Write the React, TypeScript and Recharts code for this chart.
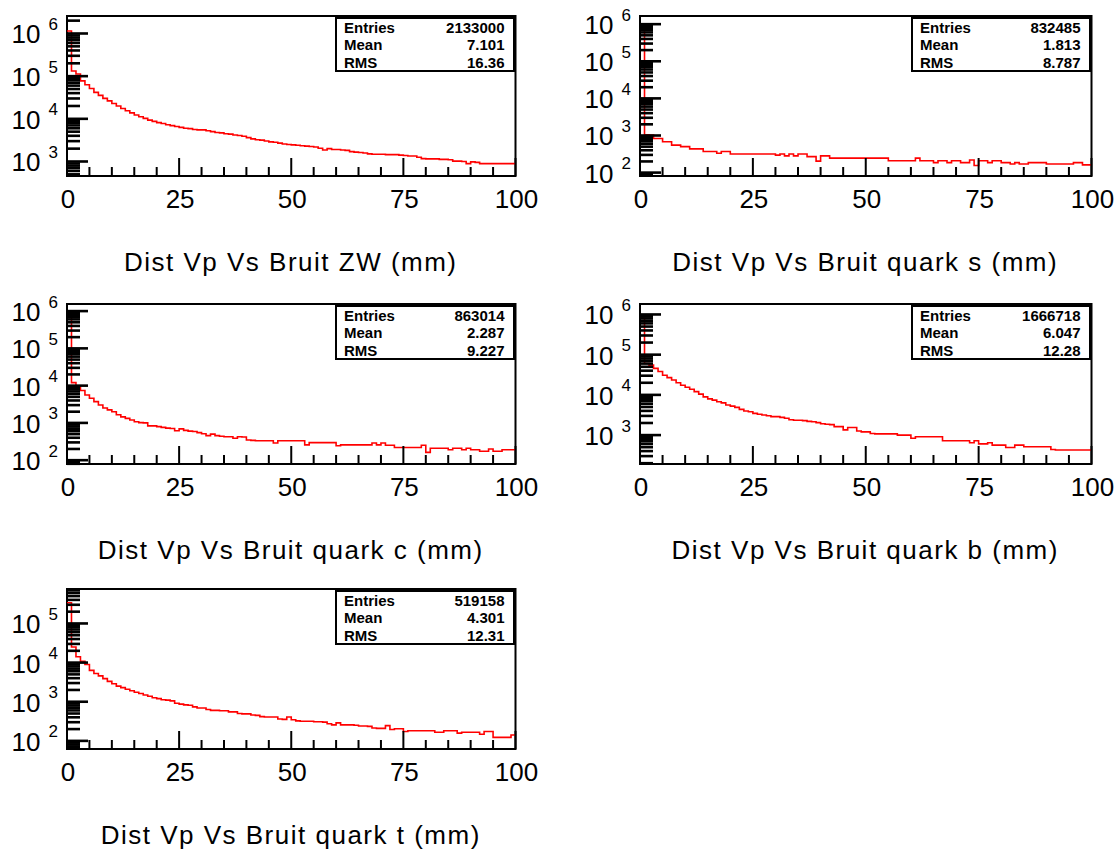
import React from 'react';
import { LineChart, Line, XAxis, YAxis, ReferenceArea } from 'recharts';

const FONT = '"Liberation Sans", Arial, Helvetica, sans-serif';
const RED = '#ff0000';
const INK = '#000';

// entries per 1 mm bin, 0 .. 100 mm
const zwCounts = [
  1148000, 131800, 112200, 77600, 63100, 51300, 41700, 35500, 30200, 26300,
  22900, 19950, 17400, 15500, 13800, 12300, 11200, 10230, 9330, 8710,
  8130, 7760, 7240, 6920, 6610, 6310, 6030, 5890, 5620, 5500,
  5500, 5250, 5010, 4790, 4680, 4470, 4370, 4170, 4070, 3890,
  3630, 3390, 3240, 3160, 3020, 2880, 2820, 2690, 2570, 2510,
  2450, 2400, 2340, 2290, 2240, 2190, 2040, 1860, 2000, 1910,
  1910, 1860, 1820, 1700, 1660, 1620, 1580, 1510, 1480, 1480,
  1480, 1450, 1450, 1450, 1410, 1380, 1350, 1350, 1260, 1170,
  1150, 1150, 1150, 1120, 1120, 1100, 1020, 1020, 1000, 890,
  980, 955, 890, 890, 890, 890, 890, 890, 890, 890,
];

const sCounts = [
  708000, 1047, 1023, 832, 832, 676, 676, 550, 550, 501,
  501, 437, 437, 437, 372, 372, 372, 331, 372, 372,
  316, 316, 316, 316, 316, 316, 316, 316, 316, 316,
  295, 316, 282, 316, 282, 316, 316, 269, 269, 204,
  282, 282, 245, 245, 245, 245, 245, 245, 245, 245,
  245, 245, 245, 245, 245, 209, 209, 209, 209, 209,
  209, 245, 209, 209, 209, 186, 209, 209, 186, 209,
  209, 186, 186, 219, 155, 209, 209, 186, 209, 209,
  186, 186, 170, 186, 170, 170, 186, 186, 186, 186,
  170, 170, 170, 170, 170, 170, 186, 186, 162, 162,
];

const cCounts = [
  692000, 12020, 9120, 7410, 5620, 4570, 3720, 3020, 2510, 2240,
  2000, 1660, 1450, 1320, 1200, 1070, 1020, 1000, 832, 832,
  794, 759, 724, 708, 617, 692, 631, 603, 589, 550,
  513, 457, 501, 457, 437, 427, 427, 389, 427, 417,
  347, 339, 331, 331, 331, 331, 288, 331, 331, 331,
  331, 331, 331, 257, 295, 295, 295, 295, 295, 295,
  245, 257, 257, 257, 257, 257, 257, 257, 288, 257,
  288, 251, 251, 219, 219, 219, 219, 219, 219, 251,
  162, 209, 209, 209, 209, 191, 209, 209, 191, 209,
  191, 191, 174, 174, 200, 174, 174, 191, 191, 191,
];

const bCounts = [
  813000, 60300, 54950, 45710, 38020, 30900, 26920, 23440, 19950, 17380,
  15490, 13800, 12020, 10470, 8910, 7940, 7410, 6760, 6310, 5620,
  5250, 4900, 4370, 3980, 3800, 3470, 3310, 3160, 3020, 2880,
  2880, 2750, 2630, 2400, 2340, 2340, 2290, 2190, 2140, 2040,
  1910, 1860, 1820, 1620, 1620, 1350, 1550, 1550, 1260, 1200,
  1200, 1100, 1070, 1070, 1070, 1070, 1070, 1000, 1000, 1000,
  832, 912, 912, 912, 912, 912, 912, 724, 724, 724,
  724, 724, 724, 646, 724, 603, 603, 646, 562, 562,
  562, 490, 490, 562, 562, 513, 513, 513, 513, 513,
  513, 437, 427, 427, 427, 427, 427, 427, 427, 427,
];

const tCounts = [
  339000, 25120, 14130, 10720, 8910, 6310, 5250, 4570, 3890, 3310,
  2880, 2510, 2290, 2090, 1910, 1740, 1620, 1480, 1380, 1260,
  1200, 1120, 1100, 1050, 912, 871, 832, 813, 741, 692,
  692, 631, 603, 603, 589, 589, 550, 550, 501, 490,
  490, 457, 447, 417, 407, 407, 407, 363, 355, 407,
  347, 324, 316, 316, 316, 309, 309, 302, 275, 257,
  288, 257, 257, 257, 251, 240, 240, 234, 214, 209,
  209, 245, 195, 204, 204, 174, 182, 182, 182, 182,
  182, 182, 166, 166, 182, 182, 182, 158, 166, 166,
  166, 166, 148, 174, 174, 123, 123, 123, 123, 141,
];

const titles = [
  'Dist Vp Vs Bruit ZW (mm)',
  'Dist Vp Vs Bruit quark s (mm)',
  'Dist Vp Vs Bruit quark c (mm)',
  'Dist Vp Vs Bruit quark b (mm)',
  'Dist Vp Vs Bruit quark t (mm)',
];
const entries = ['2133000', '832485', '863014', '1666718', '519158'];
const means = ['7.101', '1.813', '2.287', '6.047', '4.301'];
const rmsValues = ['16.36', '8.787', '9.227', '12.28', '12.31'];
const statLabels = ['Entries', 'Mean', 'RMS'];

const xLabelTicks = [0, 25, 50, 75, 100];
const xAllTicks = [0, 5, 10, 15, 20, 25, 30, 35, 40, 45, 50, 55, 60, 65, 70, 75, 80, 85, 90, 95, 100];

/* frame placement and y ranges of the five pads */
const panels = [
  { counts: zwCounts, left: 66.5, top: 16, w: 448.5, lo: 457, hi: 2570000 },
  { counts: sCounts, left: 639.5, top: 16, w: 451.5, lo: 81, hi: 1660000 },
  { counts: cCounts, left: 66.5, top: 304, w: 448.5, lo: 79, hi: 1550000 },
  { counts: bCounts, left: 639.5, top: 304, w: 451.5, lo: 191, hi: 1820000 },
  { counts: tCounts, left: 66.5, top: 589, w: 448.5, lo: 62, hi: 759000 },
];

const ML = 66;   // room for the 10^n labels
const MT = 16;
const MR = 24;
const PH = 160;  // frame height
const LAB_H = 44;

// decade + 2..9 sub-decade ticks inside [lo, hi]
const logTicks = (lo: number, hi: number) => {
  const out: number[] = [];
  for (let e = Math.floor(Math.log10(lo)); e <= Math.ceil(Math.log10(hi)); e++) {
    for (let m = 1; m <= 9; m++) {
      const v = m * Math.pow(10, e);
      if (v >= lo && v <= hi) out.push(v);
    }
  }
  return out;
};

// histogram bins -> step points, last edge closes the final bin
const toSteps = (counts: number[]) => [
  ...counts.map((v, i) => ({ x: i, v })),
  { x: counts.length, v: counts[counts.length - 1] },
];

const isDecade = (v: number) => Math.abs(Math.log10(v) - Math.round(Math.log10(v))) < 1e-6;

// y ticks drawn inward from the frame, 10^n labels outside
const YTick = (props: any) => {
  const { x, y, payload } = props;
  const v = payload.value as number;
  const major = isDecade(v);
  const e = Math.round(Math.log10(v));
  return (
    <g>
      <line x1={x} x2={x + (major ? 21 : 13)} y1={y} y2={y} stroke={INK} strokeWidth={2.6} />
      {major && (
        <g fontFamily={FONT} fill={INK}>
          <text x={10.5} y={y + 10} fontSize={26}>10</text>
          <text x={47.5} y={y - 3.5} fontSize={17}>{e}</text>
        </g>
      )}
    </g>
  );
};

const XTick = (props: any) => {
  const { x, y, payload } = props;
  const v = payload.value as number;
  const major = xLabelTicks.includes(v);
  return (
    <g>
      <line x1={x} x2={x} y1={y} y2={y - (major ? 18 : 9)} stroke={INK} strokeWidth={2} />
      {major && (
        <text x={x + 1} y={y + 32} textAnchor="middle" fontSize={26} fontFamily={FONT} fill={INK}>{v}</text>
      )}
    </g>
  );
};

const StatBox: React.FC<{ right: number; top: number; values: string[] }> = ({ right, top, values }) => (
  <div style={{
    position: 'absolute', left: right - 180.5, top: top + 1, width: 180.5, height: 54.5,
    boxSizing: 'border-box', border: `2px solid ${INK}`, background: '#fff',
    fontFamily: FONT, fontWeight: 700, fontSize: 15, lineHeight: '15px', color: INK,
  }}>
    {statLabels.map((lab, r) => (
      <React.Fragment key={lab}>
        <span style={{ position: 'absolute', left: 7.5, top: 0.5 + r * 17.6 }}>{lab}</span>
        <span style={{ position: 'absolute', right: 8.5, top: 0.5 + r * 17.6 }}>{values[r]}</span>
      </React.Fragment>
    ))}
  </div>
);

const Pad: React.FC<{ idx: number }> = ({ idx }) => {
  const p = panels[idx];
  const data = toSteps(p.counts);
  const W = ML + p.w + MR;
  const H = MT + PH + LAB_H;
  return (
    <>
      <div style={{ position: 'absolute', left: p.left - ML, top: p.top - MT }}>
        <LineChart width={W} height={H} data={data} margin={{ top: MT, right: MR, bottom: 0, left: 0 }}>
          <XAxis dataKey="x" type="number" domain={[0, 100]} allowDataOverflow ticks={xAllTicks} interval={0}
            tickSize={0} tickMargin={0} tickLine={false} axisLine={false} height={LAB_H} tick={<XTick />} />
          <YAxis type="number" scale="log" domain={[p.lo, p.hi]} allowDataOverflow ticks={logTicks(p.lo, p.hi)} interval={0}
            tickSize={0} tickMargin={0} tickLine={false} axisLine={false} width={ML} tick={<YTick />} />
          <Line dataKey="v" type="stepAfter" stroke={RED} strokeWidth={1.6}
            dot={false} activeDot={false} isAnimationActive={false} />
          <ReferenceArea x1={0} x2={100} y1={p.lo} y2={p.hi}
            fill="none" stroke={INK} strokeWidth={2} ifOverflow="visible" />
        </LineChart>
      </div>
      <StatBox right={p.left + p.w} top={p.top} values={[entries[idx], means[idx], rmsValues[idx]]} />
      <div style={{
        position: 'absolute', left: p.left, width: p.w, top: p.top + PH + 73,
        textAlign: 'center', fontFamily: FONT, fontSize: 26, lineHeight: '26px',
        letterSpacing: 1.5, color: INK, whiteSpace: 'nowrap',
      }}>
        {titles[idx]}
      </div>
    </>
  );
};

export default function App() {
  return (
    <div style={{ position: 'absolute', left: 0, top: 0, width: 1116, height: 854, overflow: 'hidden', background: '#fff' }}>
      {panels.map((_, i) => <Pad key={i} idx={i} />)}
    </div>
  );
}
